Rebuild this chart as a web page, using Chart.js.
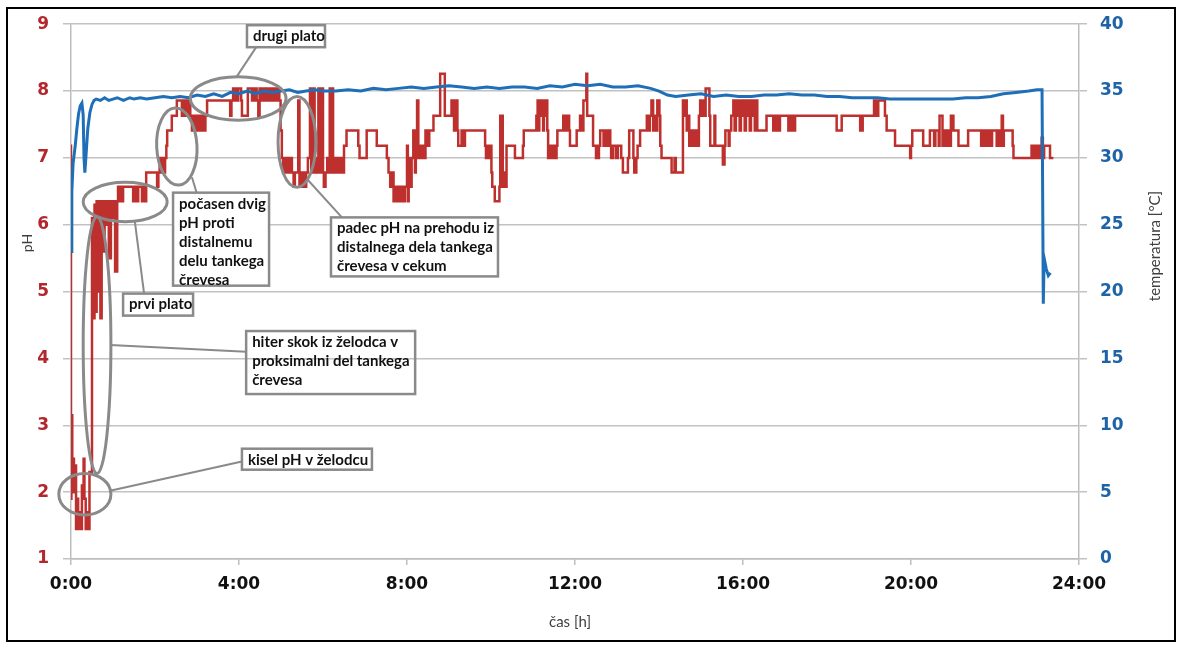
<!DOCTYPE html>
<html>
<head>
<meta charset="utf-8">
<title>pH in temperatura</title>
<script src="https://cdn.jsdelivr.net/npm/chart.js@4.4.0/dist/chart.umd.min.js"></script>
<style>
  body { margin: 0; background: #fff; }
  #phChart { position: absolute; left: 0; top: 0; }
</style>
</head>
<body>
<canvas id="phChart" width="1179" height="648"></canvas>
<script>
// pH readings: [hour, pH], value holds until the next reading
const phSteps = [
  [0,7.2],[0.01,1.9],[0.03,3.15],[0.07,2.5],[0.10,2.0],[0.12,2.4],[0.14,1.45],[0.17,1.9],[0.19,1.45],[0.24,1.7],
  [0.26,1.45],[0.30,2.1],[0.32,2.5],[0.35,1.9],[0.38,1.45],[0.42,1.7],[0.44,1.45],[0.50,2.3],
  [0.53,6.1],[0.56,4.6],[0.58,6.3],[0.61,4.7],[0.64,6.35],[0.67,5.0],[0.70,6.35],[0.73,4.6],[0.76,6.35],[0.80,5.6],
  [0.83,6.35],[0.87,6.0],[0.90,6.35],[0.95,5.5],[0.98,6.35],[1.02,6.1],[1.05,6.35],[1.10,5.3],[1.12,6.35],
  [1.13,6.57],[1.16,6.35],[1.19,6.57],[1.24,6.35],[1.48,6.57],[1.52,6.35],[1.55,6.57],[1.60,6.35],[1.69,6.57],
  [1.72,6.35],[1.75,6.57],[1.79,6.35],
  [2.05,6.78],[2.08,6.57],[2.11,6.78],[2.15,7.0],[2.18,6.78],[2.21,7.0],[2.24,6.78],[2.27,7.0],[2.29,7.18],[2.40,7.41],
  [2.52,7.63],[2.64,7.86],[2.68,7.63],[2.71,7.86],[2.75,7.63],[2.78,7.86],[2.81,7.63],[2.84,7.86],[2.88,7.63],[2.92,7.41],
  [2.95,7.63],[2.98,7.41],[3.02,7.63],[3.05,7.41],[3.09,7.63],[3.12,7.41],[3.16,7.63],[3.20,7.41],[3.24,7.63],
  [3.79,7.86],[3.82,7.63],[3.86,7.86],[3.90,8.04],[3.92,7.86],[3.96,8.04],[3.98,7.86],[4.05,8.04],[4.07,7.86],[4.21,7.63],
  [4.31,8.04],[4.33,7.86],[4.36,8.04],[4.39,7.86],[4.42,8.04],[4.46,7.86],[4.49,7.63],[4.52,8.04],[4.55,7.86],[4.58,8.04],
  [4.62,7.86],[4.65,8.04],[4.69,7.86],[4.72,8.04],[4.76,7.86],[4.80,8.04],[4.84,7.86],[4.88,8.04],[4.92,7.86],[4.96,8.04],
  [4.99,7.86],[5.02,7.41],[5.05,7.0],[5.08,6.78],[5.12,7.0],[5.15,6.78],[5.19,7.0],[5.22,6.78],[5.26,7.0],[5.30,6.78],
  [5.33,6.57],[5.41,6.78],[5.44,7.86],[5.46,6.57],[5.50,6.78],[5.53,6.57],[5.57,6.78],[5.60,6.57],[5.64,6.78],[5.69,7.0],
  [5.72,8.04],[5.74,6.78],[5.76,8.04],[5.78,7.0],[5.80,8.04],[5.82,6.78],[5.86,7.0],[5.89,6.78],[5.92,8.04],[5.94,7.0],
  [5.97,6.78],[6.00,8.04],[6.02,6.78],[6.06,6.57],[6.10,6.78],[6.13,7.0],[6.16,6.78],[6.18,8.04],[6.20,6.78],[6.24,8.04],
  [6.26,6.78],[6.30,7.0],[6.33,6.78],[6.38,7.0],[6.41,6.78],[6.47,7.0],[6.50,6.78],[6.56,7.18],[6.84,7.41],[6.87,7.18],
  [7.04,7.0],[7.28,7.41],[7.52,7.18],[7.56,7.0],[7.60,6.78],[7.64,6.57],[7.68,6.78],[7.71,6.35],[7.75,6.57],[7.78,6.35],
  [7.83,6.57],[7.86,6.35],[7.92,6.57],[7.95,6.35],[8.00,6.57],[8.02,7.18],[8.04,6.35],[8.08,7.0],[8.11,6.57],[8.15,7.0],
  [8.19,7.41],[8.21,6.78],[8.24,7.0],[8.27,7.86],[8.29,7.0],[8.32,7.18],[8.36,7.0],[8.40,7.18],[8.44,7.0],[8.47,7.41],
  [8.49,7.18],[8.51,7.41],[8.53,7.18],[8.63,7.41],[8.79,7.63],[8.90,8.26],[9.06,7.63],[9.10,7.86],[9.12,7.63],[9.14,7.41],
  [9.20,7.86],[9.22,7.41],[9.30,7.18],[9.34,7.41],[9.38,7.18],[9.86,7.41],[9.88,7.18],[9.92,7.0],[9.95,7.18],[9.98,7.0],
  [10.01,7.18],[10.03,6.78],[10.09,6.57],[10.20,6.35],[10.22,6.57],[10.28,7.63],[10.30,6.57],[10.34,6.78],[10.37,6.57],[10.57,7.18],
  [10.76,7.0],[10.78,7.18],[11.08,7.41],[11.11,7.63],[11.13,7.86],[11.15,7.41],[11.18,7.86],[11.20,7.63],[11.24,7.86],[11.26,7.41],
  [11.30,7.63],[11.34,7.86],[11.36,7.41],[11.40,7.0],[11.42,7.18],[11.48,7.0],[11.50,7.18],[11.56,7.0],[11.58,7.18],[11.72,7.41],
  [11.78,7.63],[11.80,7.41],[11.86,7.63],[11.88,7.41],[12.04,7.18],[12.12,7.41],[12.18,7.63],[12.20,7.41],[12.27,7.86],[12.29,8.26],
  [12.43,7.63],[12.50,7.18],[12.52,7.0],[12.55,7.18],[12.57,7.0],[12.60,7.18],[12.68,7.41],[12.70,7.18],[12.76,7.41],[12.78,7.18],
  [12.84,7.41],[12.86,7.18],[12.91,7.0],[12.98,7.18],[13.02,7.0],[13.10,7.18],[13.14,7.0],[13.26,6.78],[13.29,7.0],[13.39,7.41],
  [13.41,7.0],[13.46,6.78],[13.49,7.0],[13.55,7.18],[13.71,7.41],[13.75,7.63],[13.78,7.41],[13.82,7.63],[13.86,7.86],[13.88,7.41],
  [13.92,7.63],[13.96,7.41],[14.01,7.86],[14.03,7.63],[14.06,7.18],[14.30,7.0],[14.37,6.78],[14.40,7.0],[14.57,6.78],[14.60,7.86],
  [14.63,7.63],[14.66,7.86],[14.68,7.41],[14.72,7.63],[14.74,7.18],[14.78,7.41],[14.82,7.18],[14.86,7.41],[14.88,7.18],[14.93,7.41],
  [14.95,7.18],[14.98,7.63],[15.01,7.86],[15.03,7.63],[15.09,7.86],[15.11,7.63],[15.20,8.04],[15.22,7.63],[15.32,7.18],[15.34,7.63],
  [15.52,7.18],[15.56,6.9],[15.58,7.18],[15.66,7.41],[15.68,7.18],[15.72,7.41],[15.77,7.63],[15.80,7.86],[15.83,7.41],[15.86,7.86],
  [15.89,7.63],[15.92,7.86],[15.95,7.41],[15.98,7.86],[16.01,7.63],[16.04,7.86],[16.07,7.41],[16.10,7.86],[16.13,7.63],[16.16,7.86],
  [16.19,7.41],[16.22,7.86],[16.25,7.63],[16.28,7.86],[16.31,7.41],[16.34,7.86],[16.56,7.41],[16.72,7.63],[16.75,7.41],[16.78,7.63],
  [16.81,7.41],[16.84,7.63],[16.88,7.41],[17.08,7.63],[17.11,7.41],[17.14,7.63],[17.18,7.41],[17.21,7.63],[17.24,7.41],[18.23,7.63],
  [18.35,7.41],[18.79,7.63],[18.85,7.41],[19.12,7.63],[19.14,7.86],[19.16,7.63],[19.20,7.86],[19.22,7.63],[19.38,7.86],[19.42,7.63],
  [19.62,7.41],[19.98,7.18],[20.00,7.0],[20.03,7.18],[20.29,7.41],[20.45,7.18],[20.55,7.41],[20.58,7.18],[20.66,7.41],[20.68,7.18],
  [20.75,7.63],[20.79,7.18],[20.84,7.41],[20.88,7.18],[20.93,7.41],[20.95,7.18],[21.01,7.63],[21.13,7.41],[21.36,7.18],[21.67,7.41],
  [21.69,7.18],[21.75,7.41],[21.77,7.18],[21.83,7.41],[21.85,7.18],[21.91,7.41],[21.93,7.18],[22.04,7.41],[22.07,7.18],[22.10,7.41],
  [22.13,7.18],[22.16,7.41],[22.19,7.63],[22.21,7.18],[22.42,7.41],[22.44,7.18],[22.87,7.0],[22.90,7.18],[22.93,7.0],[22.96,7.18],
  [22.99,7.0],[23.02,7.18],[23.05,7.0],[23.08,7.18],[23.11,7.0],[23.14,7.3],[23.17,7.0],[23.31,7.18],[23.34,7.0],[23.39,7.0]
];

// temperature readings: [hour, °C]
const tempReadings = [
  [0,23.0],[0.02,27.5],[0.05,29.6],[0.10,30.9],[0.14,32.2],[0.18,33.3],[0.22,33.9],[0.26,34.1],[0.29,33.2],[0.31,30.0],
  [0.33,28.9],[0.36,30.3],[0.40,32.2],[0.45,33.4],[0.50,34.0],[0.55,34.3],[0.60,34.4],[0.70,34.3],[0.80,34.5],[0.90,34.3],
  [1.0,34.4],[1.1,34.5],[1.25,34.3],[1.4,34.5],[1.5,34.4],[1.65,34.5],[1.8,34.4],[2.0,34.5],[2.2,34.6],[2.4,34.5],
  [2.6,34.6],[2.8,34.5],[3.0,34.7],[3.2,34.6],[3.4,34.8],[3.6,34.6],[3.8,34.9],[4.0,34.8],[4.2,35.0],[4.4,34.8],
  [4.6,35.0],[4.8,34.9],[5.0,35.0],[5.2,35.1],[5.4,34.9],[5.6,35.0],[5.8,35.1],[6.0,35.0],[6.3,35.0],[6.6,35.1],
  [6.9,35.0],[7.2,35.2],[7.5,35.1],[7.8,35.2],[8.1,35.3],[8.4,35.2],[8.7,35.3],[9.0,35.4],[9.3,35.3],[9.6,35.2],
  [9.9,35.3],[10.2,35.2],[10.5,35.3],[10.8,35.3],[11.1,35.2],[11.4,35.4],[11.7,35.3],[12.0,35.5],[12.3,35.4],[12.6,35.5],
  [12.9,35.3],[13.2,35.3],[13.5,35.4],[13.8,35.2],[14.0,35.0],[14.2,34.7],[14.4,34.6],[14.7,34.7],[15.0,34.8],[15.3,34.6],
  [15.6,34.7],[15.9,34.6],[16.2,34.6],[16.5,34.7],[16.8,34.7],[17.1,34.8],[17.4,34.7],[17.7,34.7],[18.0,34.6],[18.3,34.6],
  [18.6,34.5],[18.9,34.5],[19.2,34.5],[19.5,34.4],[19.8,34.4],[20.1,34.4],[20.4,34.4],[20.7,34.4],[21.0,34.4],[21.3,34.5],
  [21.6,34.5],[21.9,34.6],[22.2,34.8],[22.5,34.9],[22.8,35.0],[23.0,35.1],[23.12,35.1],[23.15,19.1],[23.17,22.5],[23.22,21.7],
  [23.27,21.2],[23.32,21.4]
];

const hourTicks = [0, 4, 8, 12, 16, 20, 24];

// callout boxes with their rings and leader lines, placed in data units
const callouts = [
  { lines: ['drugi plato'], at: [4.19, 8.985], w: 78, h: 22,
    ring: [3.98, 7.89, 1.14, 0.325, 0], link: [[3.95, 8.22], [4.43, 8.675]] },
  { lines: ['počasen dvig', 'pH proti', 'distalnemu', 'delu tankega', 'črevesa'], at: [2.43, 6.48], w: 96, h: 93,
    ring: [2.52, 7.17, 0.48, 0.576, -0.05], link: [[2.88, 6.71], [3.0, 6.46]] },
  { lines: ['prvi plato'], at: [1.24, 4.97], w: 70, h: 22,
    ring: [1.29, 6.34, 1.0, 0.295, 0], link: [[1.52, 6.05], [1.74, 4.97]] },
  { lines: ['hiter skok iz želodca v', 'proksimalni del tankega', 'črevesa'], at: [4.17, 4.41], w: 169, h: 63, clear: true,
    ring: [0.62, 4.2, 0.33, 1.92, 0], link: [[0.93, 4.2], [4.17, 4.1]] },
  { lines: ['kisel pH v želodcu'], at: [4.07, 2.65], w: 130, h: 21,
    ring: [0.33, 1.97, 0.62, 0.31, 0], link: [[0.93, 2.02], [4.07, 2.46]] },
  { lines: ['padec pH na prehodu iz', 'distalnega dela tankega', 'črevesa v cekum'], at: [6.19, 6.11], w: 167, h: 59,
    ring: [5.38, 7.24, 0.45, 0.68, 0], link: [[5.64, 6.67], [6.45, 6.11]] }
];

const calloutPlugin = {
  id: 'callouts',
  afterDatasetsDraw(chart) {
    const ctx = chart.ctx;
    const xs = chart.scales.x, ys = chart.scales.y;
    const px = v => xs.getPixelForValue(v);
    const py = v => ys.getPixelForValue(v);
    ctx.save();
    ctx.strokeStyle = '#8a8a8a';
    callouts.forEach(c => {
      const [cx, cy, rx, ry, rot] = c.ring;
      ctx.lineWidth = 3;
      ctx.beginPath();
      ctx.ellipse(px(cx), py(cy), px(cx + rx) - px(cx), py(cy) - py(cy + ry), rot, 0, Math.PI * 2);
      ctx.stroke();

      ctx.lineWidth = 2;
      ctx.beginPath();
      ctx.moveTo(px(c.link[0][0]), py(c.link[0][1]));
      ctx.lineTo(px(c.link[1][0]), py(c.link[1][1]));
      ctx.stroke();

      const bx = px(c.at[0]), by = py(c.at[1]);
      if (!c.clear) {
        ctx.fillStyle = '#fff';
        ctx.fillRect(bx, by, c.w, c.h);
      }
      ctx.lineWidth = 2.5;
      ctx.strokeRect(bx, by, c.w, c.h);

      ctx.fillStyle = '#111';
      ctx.font = 'bold 15px Lato';
      ctx.textBaseline = 'middle';
      ctx.textAlign = 'left';
      c.lines.forEach((t, i) => ctx.fillText(t, bx + 6, by + 11 + i * 19));
    });
    ctx.restore();
  },
  afterDraw(chart) {
    const ctx = chart.ctx;
    const a = chart.chartArea;
    ctx.save();
    ctx.fillStyle = '#404040';
    ctx.textAlign = 'center';
    ctx.textBaseline = 'middle';

    ctx.font = '15px Lato';
    ctx.fillText('čas [h]', (a.left + a.right) / 2 - 5, a.bottom + 63);

    ctx.save();
    ctx.translate(a.left - 44, 243);
    ctx.rotate(-Math.PI / 2);
    ctx.font = '14px Lato';
    ctx.fillText('pH', 0, 0);
    ctx.restore();

    ctx.save();
    ctx.translate(a.right + 76, 246);
    ctx.rotate(-Math.PI / 2);
    ctx.font = '15px Lato';
    ctx.fillText('temperatura [°C]', 0, 0);
    ctx.restore();

    // outer frame
    ctx.strokeStyle = '#000';
    ctx.lineWidth = 2;
    ctx.strokeRect(7, 8, 1168, 633);
    ctx.restore();
  }
};

const tickFont = { family: 'DejaVu Sans', size: 17, weight: 'bold' };
const gridGray = '#c2c2c2';

new Chart(document.getElementById('phChart'), {
  type: 'scatter',
  data: {
    datasets: [
      {
        label: 'temperatura',
        data: tempReadings.map(([h, t]) => ({ x: h, y: t })),
        yAxisID: 'y2',
        showLine: true,
        borderColor: '#1f6fb8',
        borderWidth: 3,
        pointRadius: 0,
        order: 0
      },
      {
        label: 'pH',
        data: phSteps.map(([h, p]) => ({ x: h, y: p })),
        yAxisID: 'y',
        showLine: true,
        stepped: 'after',
        borderColor: '#bd302d',
        borderWidth: 2.5,
        pointRadius: 0,
        order: 1
      }
    ]
  },
  options: {
    responsive: false,
    animation: false,
    devicePixelRatio: 1,
    layout: { padding: { top: 17, left: 0, right: 0, bottom: 0 } },
    plugins: { legend: { display: false }, tooltip: { enabled: false } },
    scales: {
      x: {
        type: 'linear', min: 0, max: 24,
        afterFit: s => { s.height = 89; },
        afterBuildTicks: s => { s.ticks = hourTicks.map(v => ({ value: v })); },
        ticks: { callback: v => v + ':00', font: tickFont, color: '#111', padding: 9, maxRotation: 0, autoSkip: false },
        grid: { drawOnChartArea: false, tickLength: 6, color: '#bdbdbd', lineWidth: 1.5 },
        border: { color: '#bdbdbd', width: 1.5 }
      },
      y: {
        position: 'left', min: 1, max: 9,
        afterFit: s => { s.width = 71; },
        ticks: { stepSize: 1, font: tickFont, color: '#b3262b', padding: 14 },
        grid: { color: gridGray, lineWidth: 1.5, tickLength: 8 },
        border: { color: '#bdbdbd', width: 1.5 }
      },
      y2: {
        position: 'right', min: 0, max: 40,
        afterFit: s => { s.width = 100; },
        ticks: { stepSize: 5, font: tickFont, color: '#1d63a6', padding: 13 },
        grid: { drawOnChartArea: false, color: gridGray, lineWidth: 1.5, tickLength: 8 },
        border: { color: '#bdbdbd', width: 1.5 }
      }
    }
  },
  plugins: [calloutPlugin]
});
</script>
</body>
</html>
